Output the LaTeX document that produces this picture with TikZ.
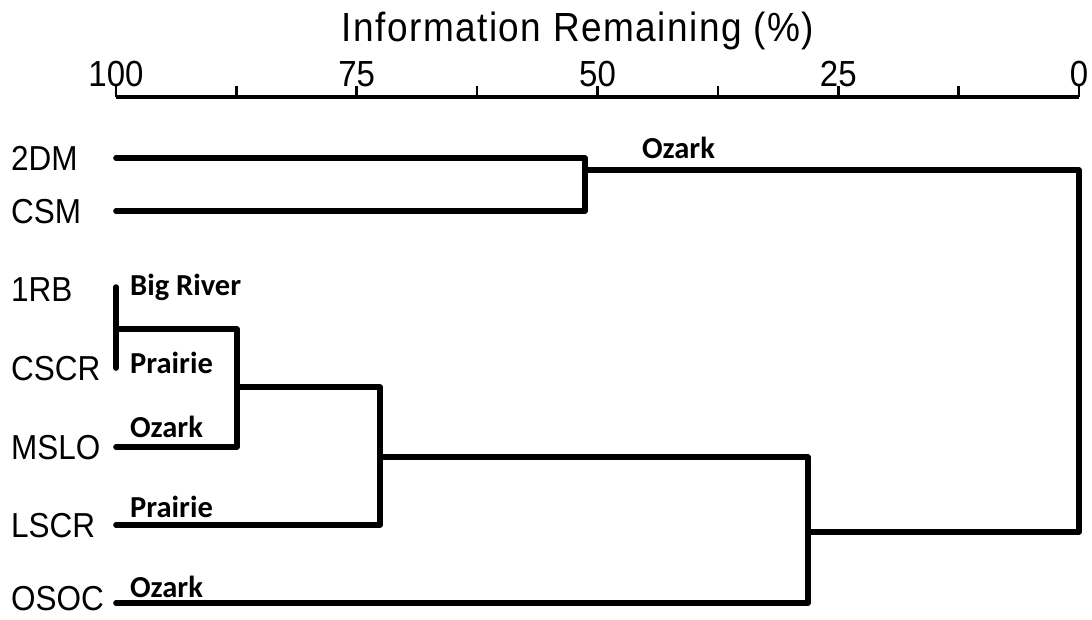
\documentclass[tikz,border=0pt]{standalone}
\usepackage{graphicx}
\usepackage{fontspec}
\setmainfont{Liberation Sans}
\newfontfamily\titlefont{Liberation Sans}[LetterSpace=4]
\newfontfamily\grpfont{Carlito}
\newcommand\tallt[1]{\scalebox{1}[1.1]{#1}}
\begin{document}
\begin{tikzpicture}[x=1pt,y=-1pt,
  branch/.style={line width=5.6pt,line cap=round,line join=round},
  axisline/.style={line width=4pt},
  tickmark/.style={line width=2.6pt},
  ticklab/.style={anchor=base,inner sep=0pt,font=\fontsize{33}{33}\selectfont},
  leaflab/.style={anchor=base west,inner sep=0pt,text depth=0pt,font=\fontsize{31.5}{31.5}\selectfont},
  grplab/.style={anchor=base west,inner sep=0pt,font=\grpfont\bfseries\fontsize{30.5}{30.5}\selectfont},
  titlelab/.style={anchor=base,inner sep=0pt,font=\titlefont\fontsize{37}{37}\selectfont}]
\useasboundingbox (0,0) rectangle (1092,619);
% title and axis
\node[titlelab] (title) at (578,41) {\tallt{Information Remaining (\%)}};
\coordinate (ax0) at (116,97);
\coordinate (ax1) at (1079,97);
\draw[axisline] (ax0) -- (ax1);
\foreach \i in {0,...,8}{
  \coordinate (tk\i) at ({116+120.375*\i},97);
  \draw[tickmark] (tk\i) -- ++(0,-11);
}
\node[ticklab] (t100) at (116,86) {\tallt{100}};
\node[ticklab] (t75) at (356.75,86) {\tallt{75}};
\node[ticklab] (t50) at (597.5,86) {\tallt{50}};
\node[ticklab] (t25) at (838.25,86) {\tallt{25}};
\node[ticklab] (t0) at (1079,86) {\tallt{0}};
% leaf labels
\node[leaflab] (n2DM) at (11,170) {\tallt{2DM}};
\node[leaflab] (nCSM) at (11,223) {\tallt{CSM}};
\node[leaflab] (n1RB) at (11,301) {\tallt{1RB}};
\node[leaflab] (nCSCR) at (11,380) {\tallt{CSCR}};
\node[leaflab] (nMSLO) at (11,459) {\tallt{MSLO}};
\node[leaflab] (nLSCR) at (11,537) {\tallt{LSCR}};
\node[leaflab] (nOSOC) at (11,610) {\tallt{OSOC}};
% leaf ends
\coordinate (L1) at (116,158);
\coordinate (L2) at (116,211);
\coordinate (L3) at (116,287);
\coordinate (L4) at (116,368);
\coordinate (L5) at (116,447);
\coordinate (L6) at (116,525);
\coordinate (L7) at (116,603);
% merge points
\coordinate (m1) at (585,170);
\coordinate (m2) at (116,329);
\coordinate (m3) at (237,387);
\coordinate (m4) at (380,457);
\coordinate (m5) at (808,532);
\coordinate (root) at (1079,350);
% branches
\draw[branch] (L1) -| (m1) |- (L2);
\draw[branch] (L3) -- (L4);
\draw[branch] (m2) -| (m3) |- (L5);
\draw[branch] (m3) -| (m4) |- (L6);
\draw[branch] (m4) -| (m5) |- (L7);
\draw[branch] (m1) -| (root) |- (m5);
% group labels
\node[grplab] (gOz1) at (642,158) {Ozark};
\node[grplab] (gBR) at (130,295) {Big River};
\node[grplab] (gPr1) at (130,373) {Prairie};
\node[grplab] (gOz2) at (130,437) {Ozark};
\node[grplab] (gPr2) at (130,517) {Prairie};
\node[grplab] (gOz3) at (130,597) {Ozark};
\end{tikzpicture}
\end{document}
